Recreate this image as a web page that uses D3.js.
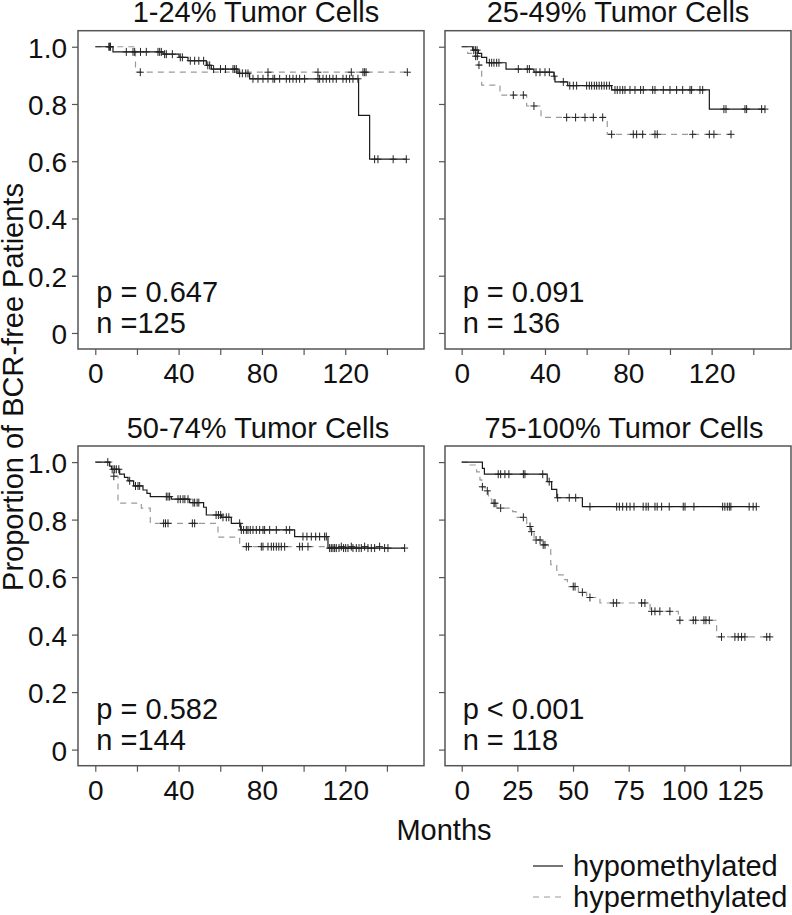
<!DOCTYPE html>
<html><head><meta charset="utf-8">
<script src="https://cdn.jsdelivr.net/npm/d3@7/dist/d3.min.js"></script>
<style>
body{margin:0;background:#fff}
svg{display:block}
text{font-family:"Liberation Sans",Arial,Helvetica,sans-serif;fill:#111}
</style>
</head><body><svg id="c" width="792" height="915"></svg>
<script>
// ---------- DATA ----------
const titles = ["1-24% Tumor Cells", "25-49% Tumor Cells", "50-74% Tumor Cells", "75-100% Tumor Cells"];
const pLabels = ["p = 0.647", "p = 0.091", "p = 0.582", "p < 0.001"];
const nLabels = ["n =125", "n = 136", "n =144", "n = 118"];
const seriesNames = ["hypomethylated", "hypermethylated"];
const yTicks = [0, 0.2, 0.4, 0.6, 0.8, 1.0];
const yTickLabels = ["0", "0.2", "0.4", "0.6", "0.8", "1.0"];
const xTicksA = [0, 20, 40, 60, 80, 100, 120, 140];
const xLabelsA = [0, 40, 80, 120];
const xTicksB = [0, 25, 50, 75, 100, 125];
const xLabelsB = [0, 25, 50, 75, 100, 125];
const xAxisTitle = "Months";
const yAxisTitle = "Proportion of BCR-free Patients";

// step points: [time, survival after event]; censor times
const hypo1Steps = [[0,1],[8.5,0.982],[32.5,0.974],[40.2,0.963],[44.5,0.951],[53.3,0.935],[55.7,0.922],[68.5,0.907],[74.1,0.888],[126.4,0.760],[131.7,0.607]];
const hypo1Cens = [6.5,7.3,14.9,18.1,18.9,21.7,24.5,30.1,30.9,31.7,33.3,34.1,37,40.8,41.8,45.6,47.7,49.7,52,54,54.9,56.8,60.1,62.5,66.1,66.9,67.7,69.3,70.6,72.2,73.3,75.7,78.1,80.5,82.9,85.3,86.1,88.5,91.7,93.3,94.9,96.5,98.1,100.5,106.9,107.7,109.3,110.9,112.5,114.1,115.7,118.9,120.5,122.1,123.7,126.1,134.1,135.7,143,149.3];
const hyper1Steps = [[0,1],[19.3,0.911]];
const hyper1Cens = [6.9,21.6,82.9,106.9,122.9,128.5,129.3,130,149.8];

const hypo2Steps = [[0,1],[5.3,0.988],[8,0.977],[9.6,0.963],[12,0.944],[21.3,0.922],[34.7,0.911],[44.3,0.897],[44.8,0.877],[50.9,0.864],[72,0.849],[118.9,0.782]];
const hypo2Cens = [5.8,6.6,7.4,13.3,14.4,15.5,16.8,17.9,27.2,31.5,32.5,35.7,37.6,40,42.1,44.4,48.8,51.9,53.6,55.2,60,61.3,62.4,63.7,64.8,66,67.2,68.4,69.6,70.9,73.6,74.7,76,77.3,78.4,80.8,83.2,85.9,87.2,91.7,92.8,96.8,100,103.2,106.1,109.6,110.4,114.4,115.7,125.9,126.9,136,136.8,144,145.6];
const hyper2Steps = [[0,1],[2.9,0.977],[5.5,0.967],[7.7,0.936],[9.6,0.866],[18.4,0.831],[31.2,0.793],[38.1,0.753],[69.9,0.694]];
const hyper2Cens = [6.7,7.5,8.3,24.8,29.6,34.7,50.4,54.7,59.2,63.2,67.7,72,82.4,84,86.9,92.8,93.9,110.9,118.9,121.1,129.3];

const hypo3Steps = [[0,1],[6.9,0.986],[7.8,0.975],[11.7,0.958],[14,0.947],[15.7,0.935],[18.4,0.917],[22.9,0.903],[24.8,0.891],[26.4,0.880],[36.5,0.871],[45.3,0.859],[52,0.843],[53.3,0.816],[60.5,0.808],[65.3,0.787],[69.8,0.764],[95.7,0.741],[111.7,0.701]];
const hypo3Cens = [6,8.5,9.3,10.1,11.3,16.5,19.3,20.5,21.3,34.1,34.9,35.7,39.7,40.8,42.1,43,44.5,46.9,47.7,48.9,49.7,58,59.1,60.2,61.3,62.9,64.1,69.3,70.1,71.2,72.5,73.3,74.4,75.7,77.3,78.9,80.5,81.3,83.7,86.9,91.7,93.3,99.7,101.6,103.7,105.8,107.7,110.1,110.9,112.5,113.3,114.1,114.9,115.7,117,119.2,120.2,121.3,123.7,125.3,126.6,127.7,130.9,132.5,134.1,138.9,140.5,148.5];
const hyper3Steps = [[0,1],[8.0,0.951],[10.9,0.857],[22.1,0.840],[26.4,0.787],[58.9,0.739],[69.3,0.706]];
const hyper3Cens = [8.9,32.8,33.7,34.9,46.6,47.7,72.5,73.6,79.7,80.5,82.9,84.5,85.6,86.9,88.1,89.3,90.9,98.1,99.4,102.1,118.1,122.9,129.3,136.5];

const hypo4Steps = [[0,1],[9.3,0.978],[10.2,0.958],[38.4,0.932],[40.4,0.905],[42.7,0.876],[54.2,0.845]];
const hypo4Cens = [16.4,17.5,19.4,21.2,27.7,28.4,36.4,39.3,43.1,48.3,51.2,57.6,69.6,70.8,72.3,74.1,75.6,77.4,81.5,82.8,83.8,86.8,87.8,89.8,93.2,99.5,100.3,104.3,117.2,118.2,119.3,120.2,120.9,129.1,130.9,132.3];
const hyper4Steps = [[0,1],[3.7,0.99],[6.7,0.966],[8.2,0.938],[9,0.914],[10.5,0.900],[12,0.871],[13.5,0.857],[15.7,0.840],[22.9,0.828],[24.4,0.808],[29.2,0.776],[31,0.758],[32.5,0.729],[36,0.712],[38.9,0.695],[40,0.643],[42.7,0.608],[45.6,0.591],[47.5,0.567],[52.4,0.547],[56.1,0.529],[62.1,0.510],[84.6,0.481],[97.3,0.450],[114.5,0.392]];
const hyper4Cens = [9.3,11.5,14.5,15,17.5,27.7,30.7,31.4,33.4,35.2,36.6,37.4,50.1,50.9,54.2,57.6,68.1,69.6,80.8,82.3,85.3,86.8,89,93.5,98,104,105.1,108.8,109.7,111.2,116.7,122.7,124.2,125.7,127.2,137,138.4];

// ---------- LAYOUT ----------
const FONT = 29, TICKFONT = 28;
const boxes = [
  {l:78, r:424, t:30.7, b:349},
  {l:445, r:791, t:30.7, b:349},
  {l:78, r:424, t:446, b:765.7},
  {l:445, r:791, t:446, b:765.7}
];
const titleX = [256, 618, 258, 624];
const panels = [
  {hypo:[hypo1Steps,hypo1Cens], hyper:[hyper1Steps,hyper1Cens], xt:xTicksA, xl:xLabelsA, xd:[-8.3,157.8], yl:true},
  {hypo:[hypo2Steps,hypo2Cens], hyper:[hyper2Steps,hyper2Cens], xt:xTicksA, xl:xLabelsA, xd:[-8.0,158.1], yl:false},
  {hypo:[hypo3Steps,hypo3Cens], hyper:[hyper3Steps,hyper3Cens], xt:xTicksA, xl:xLabelsA, xd:[-8.3,157.8], yl:true},
  {hypo:[hypo4Steps,hypo4Cens], hyper:[hyper4Steps,hyper4Cens], xt:xTicksB, xl:xLabelsB, xd:[-7.5,147.9], yl:false}
];
const styles = {
  hypo: {stroke:"#1a1a1a", dash:null, width:1.2},
  hyper:{stroke:"#9a9a9a", dash:"6,5", width:1.2}
};

const svg = d3.select("#c");

function survAt(steps, t){
  let s = steps[0][1];
  for (const [tt, ss] of steps){ if (tt <= t) s = ss; else break; }
  return s;
}

panels.forEach((p, i) => {
  const bx = boxes[i];
  const x = d3.scaleLinear().domain(p.xd).range([bx.l, bx.r]);
  const y = d3.scaleLinear().domain([-0.056, 1.056]).range([bx.b, bx.t]);
  const g = svg.append("g");

  ["hyper","hypo"].forEach(key => {
    const [steps, cens] = p[key];
    const st = styles[key];
    const end = Math.max(d3.max(cens), steps[steps.length-1][0]);
    const pts = steps.concat([[end, steps[steps.length-1][1]]]);
    const line = d3.line().x(d => x(d[0])).y(d => y(d[1])).curve(d3.curveStepAfter);
    g.append("path").attr("d", line(pts)).attr("fill","none")
      .attr("stroke", st.stroke).attr("stroke-width", st.width)
      .attr("stroke-dasharray", st.dash);
    g.append("g").selectAll("path").data(cens).join("path")
      .attr("d", t => {
        const cx = x(t), cy = y(survAt(steps, t));
        return `M${cx-3.5},${cy}H${cx+3.5}M${cx},${cy-4}V${cy+4}`;
      })
      .attr("stroke", "#222").attr("stroke-width", 1).attr("fill","none");
  });

  g.append("rect").attr("x", bx.l).attr("y", bx.t)
    .attr("width", bx.r - bx.l).attr("height", bx.b - bx.t)
    .attr("fill","none").attr("stroke","#555").attr("stroke-width",1.5);

  const xa = g.append("g").attr("transform", `translate(0,${bx.b})`)
    .call(d3.axisBottom(x).tickValues(p.xt).tickSize(6).tickSizeOuter(0)
      .tickFormat(d => p.xl.includes(d) ? String(d) : ""));
  xa.select(".domain").remove();
  xa.selectAll("line").attr("stroke","#555").attr("stroke-width",1.2);
  xa.selectAll("text").attr("y", 14).attr("font-size", TICKFONT)
    .attr("font-family", '"Liberation Sans",Arial,sans-serif').attr("fill","#111");

  const ya = g.append("g").attr("transform", `translate(${bx.l},0)`)
    .call(d3.axisLeft(y).tickValues(yTicks).tickSize(6).tickSizeOuter(0)
      .tickFormat((d, k) => p.yl ? yTickLabels[k] : ""));
  ya.select(".domain").remove();
  ya.selectAll("line").attr("stroke","#555").attr("stroke-width",1.2);
  ya.selectAll("text").attr("x", -11).attr("dy","0.375em").attr("font-size", TICKFONT)
    .attr("font-family", '"Liberation Sans",Arial,sans-serif').attr("fill","#111");

  g.append("text").attr("x", titleX[i]).attr("y", bx.t - 8.5)
    .attr("text-anchor","middle").attr("font-size", FONT).text(titles[i]);

  const tx = x(0) + 1;
  g.append("text").attr("x", tx).attr("y", bx.b - 47).attr("font-size", FONT).text(pLabels[i]);
  g.append("text").attr("x", tx).attr("y", bx.b - 16).attr("font-size", FONT).text(nLabels[i]);
});

svg.append("text").attr("x", 444).attr("y", 840).attr("text-anchor","middle")
  .attr("font-size", FONT).text(xAxisTitle);
svg.append("text").attr("transform","translate(22.5,387) rotate(-90)")
  .attr("text-anchor","middle").attr("font-size", FONT).text(yAxisTitle);

const leg = svg.append("g");
seriesNames.forEach((name, k) => {
  const st = styles[k === 0 ? "hypo" : "hyper"];
  const ly = 866 + k * 31;
  leg.append("line").attr("x1", 533).attr("x2", 563).attr("y1", ly).attr("y2", ly)
    .attr("stroke", st.stroke).attr("stroke-width", st.width).attr("stroke-dasharray", st.dash);
  leg.append("text").attr("x", 573).attr("y", ly + 9.5).attr("font-size", FONT).text(name);
});
</script>
</body></html>
